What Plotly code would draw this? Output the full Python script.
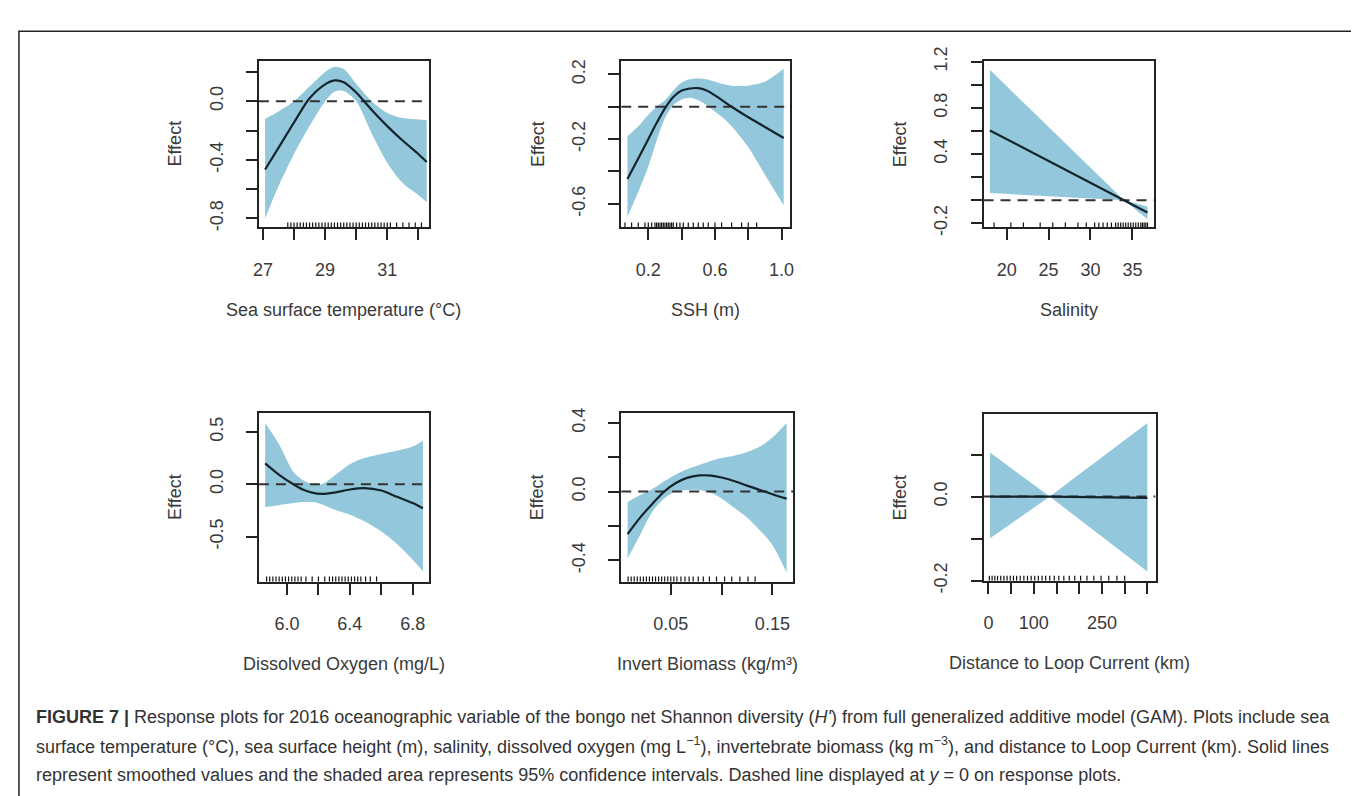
import plotly.graph_objects as go

W, H = 1359, 796

# ---------------- data ----------------
sst_x     = [27.07, 27.5, 28.0, 28.5, 29.0, 29.3, 29.6, 30.0, 30.5, 31.0, 31.5, 32.0, 32.27]
sst_fit   = [-0.466, -0.318, -0.145, 0.02, 0.115, 0.142, 0.13, 0.06, -0.06, -0.17, -0.27, -0.36, -0.415]
sst_upper = [-0.12, -0.07, 0.0, 0.10, 0.20, 0.235, 0.22, 0.12, 0.0, -0.08, -0.115, -0.125, -0.13]
sst_lower = [-0.80, -0.58, -0.36, -0.17, 0.0, 0.065, 0.07, 0.0, -0.22, -0.42, -0.56, -0.64, -0.69]
sst_rug   = [27.8, 27.9, 28.0, 28.1, 28.2, 28.3, 28.4, 28.5, 28.6, 28.7, 28.8, 28.9, 29.0, 29.1, 29.2,
             29.3, 29.4, 29.5, 29.6, 29.7, 29.8, 29.9, 30.0, 30.1, 30.2, 30.3, 30.4, 30.5, 30.6, 30.7,
             30.8, 30.9, 31.0, 31.1, 31.3, 31.5, 31.7, 31.9, 32.1]

ssh_x     = [0.075, 0.15, 0.2, 0.25, 0.3, 0.35, 0.4, 0.45, 0.5, 0.55, 0.6, 0.65, 0.7, 0.8, 0.9, 1.0125]
ssh_fit   = [-0.447, -0.30, -0.20, -0.10, -0.01, 0.06, 0.10, 0.113, 0.115, 0.10, 0.07, 0.035, 0.0, -0.065, -0.125, -0.193]
ssh_upper = [-0.183, -0.11, -0.05, 0.0, 0.04, 0.10, 0.15, 0.17, 0.175, 0.17, 0.155, 0.14, 0.13, 0.13, 0.155, 0.235]
ssh_lower = [-0.68, -0.50, -0.37, -0.21, -0.07, 0.01, 0.045, 0.055, 0.04, 0.01, -0.03, -0.07, -0.12, -0.25, -0.42, -0.61]
ssh_rug   = [0.06, 0.10, 0.14, 0.18, 0.20, 0.22, 0.24, 0.25, 0.26, 0.27, 0.28, 0.29, 0.30, 0.31, 0.32,
             0.33, 0.34, 0.35, 0.37, 0.39, 0.41, 0.44, 0.47, 0.50, 0.53, 0.56, 0.60, 0.64, 0.70, 0.76, 0.80, 0.85]

sal_x     = [18.0, 34.0, 36.8]
sal_fit   = [0.605, 0.0, -0.107]
sal_upper = [1.13, 0.0, -0.055]
sal_lower = [0.062, 0.0, -0.165]
sal_rug   = [18.5, 20.5, 22.0, 24.0, 25.5, 27.0, 28.5, 29.5, 30.5, 31.0, 31.5, 32.0, 32.5, 33.0, 33.3,
             33.6, 33.9, 34.2, 34.5, 34.8, 35.1, 35.4, 35.7, 36.0, 36.2, 36.4, 36.6, 36.8]

do_x      = [5.861, 5.95, 6.04, 6.1, 6.16, 6.22, 6.3, 6.4, 6.49, 6.6, 6.7, 6.8, 6.865]
do_fit    = [0.20, 0.09, 0.0, -0.05, -0.08, -0.092, -0.08, -0.05, -0.037, -0.06, -0.12, -0.18, -0.23]
do_upper  = [0.584, 0.38, 0.12, 0.04, 0.0, 0.0, 0.08, 0.19, 0.25, 0.29, 0.32, 0.36, 0.415]
do_lower  = [-0.216, -0.20, -0.18, -0.17, -0.17, -0.19, -0.24, -0.29, -0.35, -0.45, -0.57, -0.72, -0.83]
do_rug    = [5.87, 5.89, 5.91, 5.93, 5.95, 5.97, 5.99, 6.01, 6.03, 6.05, 6.07, 6.09, 6.12, 6.16, 6.20,
             6.24, 6.27, 6.29, 6.31, 6.33, 6.35, 6.37, 6.39, 6.41, 6.43, 6.45, 6.47, 6.50, 6.53, 6.57]

inv_x     = [0.0075, 0.02, 0.032, 0.0435, 0.055, 0.066, 0.078, 0.09, 0.1, 0.113, 0.125, 0.14, 0.15, 0.164]
inv_fit   = [-0.247, -0.15, -0.07, 0.0, 0.05, 0.08, 0.094, 0.093, 0.082, 0.06, 0.035, 0.005, -0.015, -0.041]
inv_upper = [-0.06, -0.02, 0.015, 0.06, 0.10, 0.13, 0.155, 0.18, 0.195, 0.21, 0.23, 0.27, 0.315, 0.40]
inv_lower = [-0.39, -0.25, -0.116, -0.04, 0.0, 0.01, 0.01, -0.01, -0.04, -0.097, -0.15, -0.24, -0.31, -0.47]
inv_rug   = [0.008, 0.011, 0.014, 0.017, 0.020, 0.023, 0.026, 0.029, 0.032, 0.035, 0.038, 0.041, 0.044,
             0.047, 0.050, 0.053, 0.056, 0.060, 0.064, 0.068, 0.072, 0.077, 0.082, 0.088, 0.095, 0.103,
             0.110, 0.118, 0.126, 0.133]

dist_x     = [3.5, 135.0, 350.0]
dist_fit   = [0.0, 0.0, -0.003]
dist_upper = [0.105, 0.0, 0.175]
dist_lower = [-0.099, 0.0, -0.178]
dist_rug   = [2, 8, 14, 20, 27, 34, 41, 48, 55, 62, 70, 78, 86, 94, 102, 110, 118, 126, 135, 145,
              155, 166, 178, 190, 203, 217, 232, 248, 265, 283, 300]

x_titles = ["Sea surface temperature (°C)", "SSH (m)", "Salinity",
            "Dissolved Oxygen (mg/L)", "Invert Biomass (kg/m³)", "Distance to Loop Current (km)"]

# labelled ticks and unlabelled (minor) ticks
x_labelled = [[27, 29, 31], [0.2, 0.6, 1.0], [20, 25, 30, 35], [6.0, 6.4, 6.8], [0.05, 0.15], [0, 100, 250]]
x_labels   = [["27", "29", "31"], ["0.2", "0.6", "1.0"], ["20", "25", "30", "35"],
              ["6.0", "6.4", "6.8"], ["0.05", "0.15"], ["0", "100", "250"]]
x_unlabelled = [[28, 30, 32], [0.4, 0.8], [], [6.2, 6.6], [0.10], [50, 150, 200, 300, 350]]
y_labelled = [[0.0, -0.4, -0.8], [0.2, -0.2, -0.6], [1.2, 0.8, 0.4, -0.2], [0.5, 0.0, -0.5],
              [0.4, 0.0, -0.4], [0.0, -0.2]]
y_labels   = [["0.0", "-0.4", "-0.8"], ["0.2", "-0.2", "-0.6"], ["1.2", "0.8", "0.4", "-0.2"],
              ["0.5", "0.0", "-0.5"], ["0.4", "0.0", "-0.4"], ["0.0", "-0.2"]]
y_unlabelled = [[0.2, -0.2, -0.6], [0.0, -0.4], [1.0, 0.6, 0.2, 0.0], [], [0.2, -0.2], [0.1, -0.1]]

caption_lines = [
    "<b>FIGURE 7 |</b> Response plots for 2016 oceanographic variable of the bongo net Shannon diversity (<i>H'</i>) from full generalized additive model (GAM). Plots include sea",
    "surface temperature (°C), sea surface height (m), salinity, dissolved oxygen (mg L<sup>−1</sup>), invertebrate biomass (kg m<sup>−3</sup>), and distance to Loop Current (km). Solid lines",
    "represent smoothed values and the shaded area represents 95% confidence intervals. Dashed line displayed at <i>y</i> = 0 on response plots.",
]

panels = [
    (sst_x, sst_fit, sst_upper, sst_lower, sst_rug),
    (ssh_x, ssh_fit, ssh_upper, ssh_lower, ssh_rug),
    (sal_x, sal_fit, sal_upper, sal_lower, sal_rug),
    (do_x, do_fit, do_upper, do_lower, do_rug),
    (inv_x, inv_fit, inv_upper, inv_lower, inv_rug),
    (dist_x, dist_fit, dist_upper, dist_lower, dist_rug),
]

# ---------------- layout geometry (pixels) ----------------
boxes = [(246.7, 418.0, 40.0, 212.7), (611.7, 781.7, 40.0, 212.7), (976.7, 1148.3, 40.0, 212.7),
         (246.7, 418.3, 405.0, 579.3), (611.7, 785.0, 405.0, 579.3), (976.7, 1150.0, 406.0, 578.3)]
x_ranges = [[26.87, 32.34], [0.0375, 1.05], [17.24, 37.56], [5.821, 6.905], [0.0012, 0.1705], [-10.9, 368]]
y_ranges = [[-0.862, 0.277], [-0.746, 0.285], [-0.237, 1.21], [-0.93, 0.678], [-0.524, 0.456], [-0.2, 0.196]]

BAND = "#93C8DC"
FONT = "Liberation Sans, Arial, sans-serif"
TXT = "#3a3a3a"
FS = 18

fig = go.Figure()
for i, (xs, fit, up, lo, rug) in enumerate(panels):
    n = "" if i == 0 else str(i + 1)
    xa, ya = "x" + n, "y" + n
    shape = "linear" if len(xs) <= 3 else "spline"
    fig.add_trace(go.Scatter(x=xs, y=up, xaxis=xa, yaxis=ya, mode="lines",
                             line=dict(width=0, shape=shape, smoothing=0.8),
                             hoverinfo="skip", showlegend=False))
    fig.add_trace(go.Scatter(x=xs, y=lo, xaxis=xa, yaxis=ya, mode="lines",
                             line=dict(width=0, shape=shape, smoothing=0.8),
                             fill="tonexty", fillcolor=BAND, hoverinfo="skip", showlegend=False))
    fig.add_trace(go.Scatter(x=x_ranges[i], y=[0, 0], xaxis=xa, yaxis=ya, mode="lines",
                             line=dict(color="#333333", width=2, dash="10px,7px"), showlegend=False))
    fig.add_trace(go.Scatter(x=xs, y=fit, xaxis=xa, yaxis=ya, mode="lines",
                             line=dict(color="#15242c", width=2.2, shape=shape, smoothing=0.8),
                             showlegend=False))
    y0 = y_ranges[i][0]
    h = 0.03 * (y_ranges[i][1] - y_ranges[i][0])
    rx, ry = [], []
    for v in rug:
        rx += [v, v, None]
        ry += [y0, y0 + h, None]
    fig.add_trace(go.Scatter(x=rx, y=ry, xaxis=xa, yaxis=ya, mode="lines",
                             line=dict(color="#111111", width=1.2), showlegend=False))

layout = dict(width=W, height=H, margin=dict(l=0, r=0, t=0, b=0), paper_bgcolor="white",
              plot_bgcolor="white", showlegend=False, font=dict(family=FONT, color=TXT))
for i, (l, r, t, b) in enumerate(boxes):
    n = "" if i == 0 else str(i + 1)
    common = dict(ticks="outside", ticklen=11, tickwidth=2, tickcolor="#222", showline=True, linewidth=2,
                  linecolor="#222", mirror=True, showgrid=False, zeroline=False,
                  tickfont=dict(size=FS, color=TXT, family=FONT), tickmode="array")
    layout["xaxis" + n] = dict(domain=[l / W, r / W], range=x_ranges[i], anchor="y" + n,
                               tickvals=x_labelled[i], ticktext=x_labels[i], ticklabelstandoff=14,
                               minor=dict(tickmode="array", tickvals=x_unlabelled[i], ticks="outside",
                                          ticklen=11, tickwidth=2, tickcolor="#222", showgrid=False),
                               **common)
    layout["yaxis" + n] = dict(domain=[1 - b / H, 1 - t / H], range=y_ranges[i], anchor="x" + n,
                               tickvals=y_labelled[i], ticktext=y_labels[i], tickangle=-90,
                               ticklabelstandoff=16,
                               minor=dict(tickmode="array", tickvals=y_unlabelled[i], ticks="outside",
                                          ticklen=11, tickwidth=2, tickcolor="#222", showgrid=False),
                               **common)
fig.update_layout(**layout)

ann = []
for i, (l, r, t, b) in enumerate(boxes):
    ann.append(dict(x=(l - 84) / W, y=1 - (t + b) / 2 / H, xref="paper", yref="paper", text="Effect",
                    textangle=-90, showarrow=False, font=dict(size=FS, color=TXT, family=FONT),
                    xanchor="center", yanchor="middle"))
    ann.append(dict(x=(l + r) / 2 / W, y=1 - (b + 85) / H, xref="paper", yref="paper", text=x_titles[i],
                    showarrow=False, font=dict(size=FS, color=TXT, family=FONT),
                    xanchor="center", yanchor="middle"))
for k, line in enumerate(caption_lines):
    ann.append(dict(x=20 / W, y=1 - (719 + 30 * k) / H, xref="paper", yref="paper", text=line,
                    showarrow=False, font=dict(size=18, color="#333333", family=FONT),
                    xanchor="left", yanchor="middle", align="left"))
fig.update_layout(annotations=ann)

fig.add_shape(type="rect", xref="paper", yref="paper", x0=5 / W, x1=1353 / W, y0=-0.05, y1=1 - 9.5 / H,
              line=dict(color="#222222", width=1.5))

fig.write_html("out.html")
